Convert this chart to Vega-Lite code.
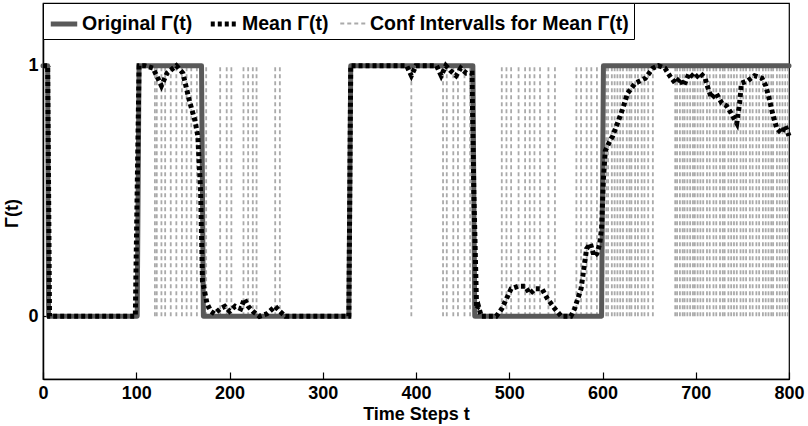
{
  "$schema": "https://vega.github.io/schema/vega-lite/v6.json",
  "autosize": {"type": "none"},
  "padding": {"left": 43, "top": 3, "right": 19, "bottom": 47},
  "width": 746,
  "height": 376,
  "background": "white",
  "config": {
    "font": "Liberation Sans",
    "view": {"stroke": "black", "strokeWidth": 1.2},
    "axis": {"labelFontWeight": "bold", "labelFontSize": 18, "titleFontWeight": "bold", "titleFontSize": 18, "labelColor": "black", "titleColor": "black", "domainColor": "black", "tickColor": "black", "grid": false, "labelFont": "Liberation Sans", "titleFont": "Liberation Sans"}
  },
  "datasets": {
    "orig": [
      {"series": "Original Γ(t)", "t": 0, "y": 1},
      {"series": "Original Γ(t)", "t": 5, "y": 1},
      {"series": "Original Γ(t)", "t": 6, "y": 0},
      {"series": "Original Γ(t)", "t": 101, "y": 0},
      {"series": "Original Γ(t)", "t": 103, "y": 1},
      {"series": "Original Γ(t)", "t": 170, "y": 1},
      {"series": "Original Γ(t)", "t": 172, "y": 0},
      {"series": "Original Γ(t)", "t": 328, "y": 0},
      {"series": "Original Γ(t)", "t": 330, "y": 1},
      {"series": "Original Γ(t)", "t": 461, "y": 1},
      {"series": "Original Γ(t)", "t": 463, "y": 0},
      {"series": "Original Γ(t)", "t": 599, "y": 0},
      {"series": "Original Γ(t)", "t": 601, "y": 1},
      {"series": "Original Γ(t)", "t": 800, "y": 1}
    ],
    "mean": [
      {"t": 0, "y": 1}, {"t": 5, "y": 1}, {"t": 7, "y": 0}, {"t": 99, "y": 0}, {"t": 103, "y": 1},
      {"t": 109, "y": 1}, {"t": 118, "y": 0.99}, {"t": 127, "y": 0.92}, {"t": 133, "y": 0.97}, {"t": 143, "y": 1.0},
      {"t": 150, "y": 0.97}, {"t": 157, "y": 0.86}, {"t": 163, "y": 0.78}, {"t": 166, "y": 0.72}, {"t": 169, "y": 0.5},
      {"t": 171, "y": 0.14}, {"t": 176, "y": 0.05}, {"t": 180, "y": 0.02}, {"t": 184, "y": 0.01}, {"t": 190, "y": 0.03},
      {"t": 195, "y": 0.04}, {"t": 200, "y": 0.02}, {"t": 206, "y": 0.04}, {"t": 212, "y": 0.03}, {"t": 216, "y": 0.07},
      {"t": 220, "y": 0.04}, {"t": 225, "y": 0.02}, {"t": 232, "y": 0}, {"t": 240, "y": 0.01}, {"t": 249, "y": 0.04},
      {"t": 254, "y": 0.02}, {"t": 260, "y": 0}, {"t": 328, "y": 0}, {"t": 330, "y": 1}, {"t": 390, "y": 1},
      {"t": 395, "y": 0.96}, {"t": 400, "y": 1}, {"t": 422, "y": 1}, {"t": 427, "y": 0.96}, {"t": 432, "y": 1},
      {"t": 437, "y": 0.98}, {"t": 443, "y": 0.96}, {"t": 448, "y": 0.99}, {"t": 454, "y": 0.97}, {"t": 460, "y": 0.97},
      {"t": 462, "y": 0.5}, {"t": 465, "y": 0.03}, {"t": 467, "y": 0.04}, {"t": 470, "y": 0}, {"t": 486, "y": 0},
      {"t": 492, "y": 0.03}, {"t": 497, "y": 0.07}, {"t": 502, "y": 0.11}, {"t": 510, "y": 0.12}, {"t": 517, "y": 0.12},
      {"t": 522, "y": 0.09}, {"t": 528, "y": 0.11}, {"t": 535, "y": 0.11}, {"t": 541, "y": 0.07}, {"t": 549, "y": 0.03},
      {"t": 556, "y": 0}, {"t": 566, "y": 0}, {"t": 570, "y": 0.03}, {"t": 577, "y": 0.11}, {"t": 583, "y": 0.27},
      {"t": 587, "y": 0.29}, {"t": 591, "y": 0.24}, {"t": 594, "y": 0.25}, {"t": 597, "y": 0.29}, {"t": 599, "y": 0.35},
      {"t": 601, "y": 0.55}, {"t": 603, "y": 0.66}, {"t": 608, "y": 0.7}, {"t": 611, "y": 0.72}, {"t": 620, "y": 0.81},
      {"t": 627, "y": 0.89}, {"t": 635, "y": 0.93}, {"t": 646, "y": 0.95}, {"t": 654, "y": 0.99}, {"t": 660, "y": 1.0},
      {"t": 667, "y": 0.99}, {"t": 672, "y": 0.96}, {"t": 678, "y": 0.93}, {"t": 683, "y": 0.95}, {"t": 687, "y": 0.92},
      {"t": 693, "y": 0.97}, {"t": 699, "y": 0.95}, {"t": 705, "y": 0.97}, {"t": 710, "y": 0.95}, {"t": 714, "y": 0.9},
      {"t": 717, "y": 0.87}, {"t": 722, "y": 0.89}, {"t": 728, "y": 0.85}, {"t": 733, "y": 0.84}, {"t": 738, "y": 0.81},
      {"t": 744, "y": 0.77}, {"t": 747, "y": 0.85}, {"t": 749, "y": 0.93}, {"t": 756, "y": 0.94}, {"t": 763, "y": 0.96},
      {"t": 771, "y": 0.95}, {"t": 775, "y": 0.92}, {"t": 778, "y": 0.88}, {"t": 783, "y": 0.8}, {"t": 787, "y": 0.75},
      {"t": 792, "y": 0.73}, {"t": 796, "y": 0.76}, {"t": 800, "y": 0.72}
    ],
    "ci": [
      {"t": 120, "lo": 0, "hi": 1}, {"t": 122, "lo": 0, "hi": 1}, {"t": 127, "lo": 0, "hi": 1}, {"t": 131, "lo": 0, "hi": 1}, {"t": 137, "lo": 0, "hi": 1}, {"t": 143, "lo": 0, "hi": 1}, {"t": 149, "lo": 0, "hi": 1}, {"t": 154, "lo": 0, "hi": 1}, {"t": 159, "lo": 0, "hi": 1}, {"t": 165, "lo": 0, "hi": 1}, {"t": 175, "lo": 0, "hi": 1},
      {"t": 190, "lo": 0, "hi": 1}, {"t": 197, "lo": 0, "hi": 1}, {"t": 202, "lo": 0, "hi": 1}, {"t": 215, "lo": 0, "hi": 1}, {"t": 220, "lo": 0, "hi": 1}, {"t": 225, "lo": 0, "hi": 1}, {"t": 229, "lo": 0, "hi": 1}, {"t": 249, "lo": 0, "hi": 1}, {"t": 254, "lo": 0, "hi": 1},
      {"t": 395, "lo": 0, "hi": 1}, {"t": 429, "lo": 0, "hi": 1}, {"t": 433, "lo": 0, "hi": 1}, {"t": 440, "lo": 0, "hi": 1}, {"t": 445, "lo": 0, "hi": 1}, {"t": 452, "lo": 0, "hi": 1}, {"t": 458, "lo": 0, "hi": 1},
      {"t": 492, "lo": 0, "hi": 1}, {"t": 497, "lo": 0, "hi": 1}, {"t": 502, "lo": 0, "hi": 1}, {"t": 510, "lo": 0, "hi": 1}, {"t": 517, "lo": 0, "hi": 1}, {"t": 522, "lo": 0, "hi": 1}, {"t": 527, "lo": 0, "hi": 1}, {"t": 533, "lo": 0, "hi": 1}, {"t": 542, "lo": 0, "hi": 1}, {"t": 549, "lo": 0, "hi": 1},
      {"t": 572, "lo": 0, "hi": 1}, {"t": 577, "lo": 0, "hi": 1}, {"t": 583, "lo": 0, "hi": 1}, {"t": 588, "lo": 0, "hi": 1}, {"t": 594, "lo": 0, "hi": 1},
      {"t": 604, "lo": 0, "hi": 1}, {"t": 606, "lo": 0, "hi": 1}, {"t": 610, "lo": 0, "hi": 1}, {"t": 613, "lo": 0, "hi": 1}, {"t": 616, "lo": 0, "hi": 1}, {"t": 619, "lo": 0, "hi": 1}, {"t": 622, "lo": 0, "hi": 1}, {"t": 626, "lo": 0, "hi": 1}, {"t": 629, "lo": 0, "hi": 1}, {"t": 631, "lo": 0, "hi": 1}, {"t": 635, "lo": 0, "hi": 1}, {"t": 638, "lo": 0, "hi": 1}, {"t": 642, "lo": 0, "hi": 1}, {"t": 645, "lo": 0, "hi": 1}, {"t": 649, "lo": 0, "hi": 1}, {"t": 654, "lo": 0, "hi": 1},
      {"t": 678, "lo": 0, "hi": 1}, {"t": 680, "lo": 0, "hi": 1}, {"t": 683, "lo": 0, "hi": 1}, {"t": 686, "lo": 0, "hi": 1}, {"t": 688, "lo": 0, "hi": 1}, {"t": 691, "lo": 0, "hi": 1}, {"t": 694, "lo": 0, "hi": 1}, {"t": 697, "lo": 0, "hi": 1}, {"t": 699, "lo": 0, "hi": 1}, {"t": 702, "lo": 0, "hi": 1}, {"t": 705, "lo": 0, "hi": 1}, {"t": 708, "lo": 0, "hi": 1}, {"t": 712, "lo": 0, "hi": 1}, {"t": 715, "lo": 0, "hi": 1}, {"t": 719, "lo": 0, "hi": 1}, {"t": 722, "lo": 0, "hi": 1}, {"t": 726, "lo": 0, "hi": 1}, {"t": 729, "lo": 0, "hi": 1}, {"t": 731, "lo": 0, "hi": 1}, {"t": 735, "lo": 0, "hi": 1}, {"t": 738, "lo": 0, "hi": 1}, {"t": 741, "lo": 0, "hi": 1}, {"t": 744, "lo": 0, "hi": 1}, {"t": 748, "lo": 0, "hi": 1}, {"t": 751, "lo": 0, "hi": 1}, {"t": 754, "lo": 0, "hi": 1}, {"t": 758, "lo": 0, "hi": 1}, {"t": 761, "lo": 0, "hi": 1}, {"t": 765, "lo": 0, "hi": 1}, {"t": 768, "lo": 0, "hi": 1}, {"t": 772, "lo": 0, "hi": 1}, {"t": 775, "lo": 0, "hi": 1}, {"t": 778, "lo": 0, "hi": 1}, {"t": 781, "lo": 0, "hi": 1}, {"t": 783, "lo": 0, "hi": 1}, {"t": 787, "lo": 0, "hi": 1}, {"t": 790, "lo": 0, "hi": 1}, {"t": 793, "lo": 0, "hi": 1}, {"t": 796, "lo": 0, "hi": 1}, {"t": 799, "lo": 0, "hi": 1}
    ]
  },
  "encoding": {
    "x": {"field": "t", "type": "quantitative", "scale": {"domain": [0, 800], "nice": false, "zero": false},
      "axis": {"title": "Time Steps t", "values": [0, 100, 200, 300, 400, 500, 600, 700, 800], "tickSize": -7, "labelPadding": 12, "titleY": 40, "titleBaseline": "alphabetic", "labelFlush": false, "domainWidth": 1.5, "tickWidth": 1.2}},
    "color": {"field": "series", "type": "nominal",
      "scale": {"domain": ["Original Γ(t)", "Mean Γ(t)", "Conf Intervalls for Mean Γ(t)"], "range": ["#595959", "#000000", "#aaaaaa"]},
      "legend": {"title": null, "orient": "top-left", "offset": 0, "direction": "horizontal", "fillColor": "white", "strokeColor": "black", "padding": 5, "labelFontSize": 19.5, "labelFontWeight": "bold", "labelColor": "black", "labelFont": "Liberation Sans", "symbolType": "stroke", "symbolSize": 700, "columnPadding": 7, "labelOffset": 2, "labelLimit": 400}},
    "strokeDash": {"field": "series", "type": "nominal",
      "scale": {"domain": ["Original Γ(t)", "Mean Γ(t)", "Conf Intervalls for Mean Γ(t)"], "range": [[1, 0], [4, 3], [4, 3]]},
      "legend": {"title": null}},
    "strokeWidth": {"field": "series", "type": "ordinal",
      "scale": {"type": "ordinal", "domain": ["Original Γ(t)", "Mean Γ(t)", "Conf Intervalls for Mean Γ(t)"], "range": [5, 5, 1.8]},
      "legend": {"title": null}}
  },
  "layer": [
    {
      "data": {"name": "ci"},
      "transform": [{"calculate": "'Conf Intervalls for Mean Γ(t)'", "as": "series"}],
      "mark": {"type": "rule"},
      "encoding": {
        "y": {"field": "lo", "type": "quantitative", "scale": {"domain": [-0.25, 1.25], "nice": false, "zero": false},
          "axis": {"title": "Γ(t)", "values": [0, 1], "format": "d", "tickSize": -7, "labelPadding": 12, "titleX": -22, "titleY": 210, "domainWidth": 1.5, "tickWidth": 1.2}},
        "y2": {"field": "hi"}
      }
    },
    {
      "data": {"name": "orig"},
      "mark": {"type": "line", "strokeJoin": "round", "strokeCap": "round"},
      "encoding": {"y": {"field": "y", "type": "quantitative"}}
    },
    {
      "data": {"name": "mean"},
      "transform": [{"calculate": "'Mean Γ(t)'", "as": "series"}],
      "mark": {"type": "line", "strokeJoin": "miter"},
      "encoding": {"y": {"field": "y", "type": "quantitative"}}
    }
  ]
}
